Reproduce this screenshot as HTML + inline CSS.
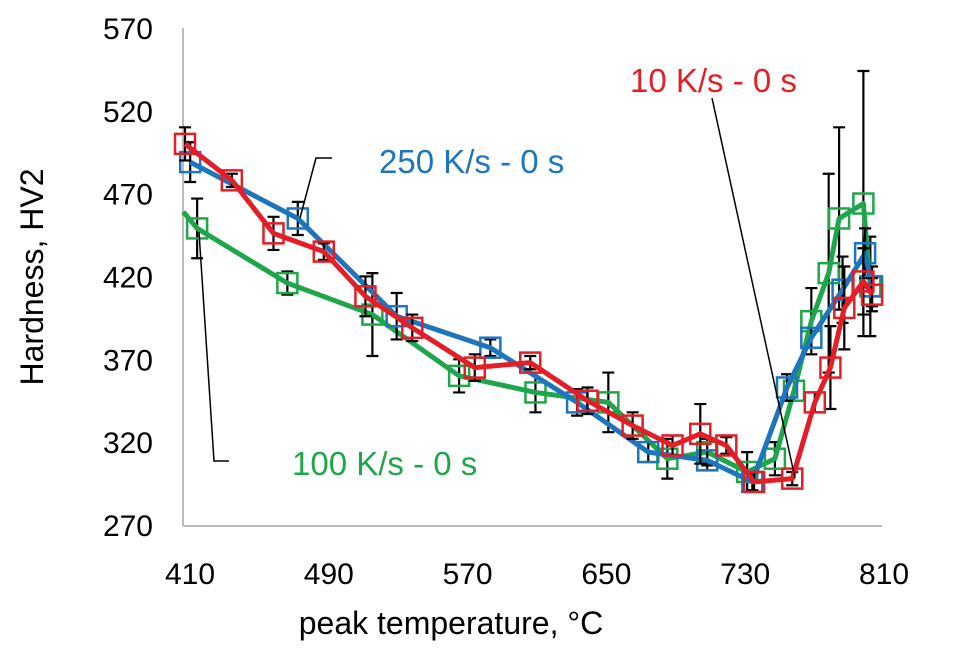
<!DOCTYPE html>
<html><head><meta charset="utf-8"><style>
body{margin:0;background:#fff}
svg{display:block;font-family:"Liberation Sans",Arial,sans-serif}
</style></head><body>
<svg id="chart" width="959" height="655"></svg>
<script>
const xTicks=[410,490,570,650,730,810];
const yTicks=[270,320,370,420,470,520,570];
const blueX=[413,475,532,586,636,677,711,737,757,771,789,802,806];
const blueY=[489,455,396,377,344,314,309,296,353,383,412,434,414];
const blueErr=[12,10,14,5,8,6,6,5,8,6,20,15,12];
const redX=[410,437,461,490,514,541,577,609,642,668,691,707,722,738,760,773,782,790,801,806];
const redY=[500,478,446,435,408,389,365,368,345,330,318,325,318,296,298,344,365,401,417,409];
const redErr=[10,4,10,5,12,8,8,4,8,8,6,18,5,6,4,6,25,25,20,10];
const greenX=[409,417,469,518,568,612,654,688,711,734,750,761,771,781,787,801,805];
const greenY=[459,449,416,397,360,350,344,310,314,302,310,351,393,422,455,464,414];
const greenErr=[0,18,7,25,10,12,18,12,8,12,10,6,20,60,55,80,30];
const NS="http://www.w3.org/2000/svg";
const svg=document.getElementById('chart');
const X=v=>185+(v-410)*1.735;
const Y=v=>525-(v-270)*1.657;
function mk(t,a,p){const e=document.createElementNS(NS,t);for(const k in a)e.setAttribute(k,a[k]);(p||svg).appendChild(e);return e;}
const ax=mk('g',{});


mk('line',{x1:183,y1:28,x2:183,y2:526,stroke:'#bbb','stroke-width':2},ax);
mk('line',{x1:183,y1:526,x2:882,y2:526,stroke:'#bbb','stroke-width':2},ax);
yTicks.forEach(v=>{const t=mk('text',{x:153,y:Y(v)+11,'text-anchor':'end','font-size':30,fill:'#000'},ax);t.textContent=v;

});
xTicks.forEach(v=>{const t=mk('text',{x:X(v)+5,y:584,'text-anchor':'middle','font-size':30,fill:'#000'},ax);t.textContent=v;

});
const yt=mk('text',{x:0,y:0,transform:'translate(43,277) rotate(-90)','text-anchor':'middle','font-size':32,fill:'#000'});yt.textContent='Hardness, HV2';


const xt=mk('text',{x:451,y:634,'text-anchor':'middle','font-size':32,fill:'#000'});xt.textContent='peak temperature, °C';


function series(xs,ys,es,col,name){
 const g=mk('g',{});
 
 
 xs.forEach((x,i)=>{if(!es[i])return;const cx=X(x),y1=Y(ys[i]-es[i]),y2=Y(ys[i]+es[i]);
  mk('path',{d:`M${cx},${y1}V${y2}M${cx-6},${y1}h12M${cx-6},${y2}h12`,stroke:'#000','stroke-width':2.2,fill:'none'},g);});
 mk('polyline',{points:xs.map((x,i)=>X(x)+','+Y(ys[i])).join(' '),fill:'none',stroke:col,'stroke-width':5,'stroke-linejoin':'round'},g);
 xs.forEach((x,i)=>{if(name.startsWith('green')&&i===0)return;const r=mk('rect',{x:X(x)-10,y:Y(ys[i])-10,width:20,height:20,fill:'none',stroke:col,'stroke-width':2.5},g);
  
  });
}
series(greenX,greenY,greenErr,'#1fa64a','green-series-100ks');
series(blueX,blueY,blueErr,'#1f75bc','blue-series-250ks');
series(redX,redY,redErr,'#e41e26','red-series-10ks');
const ld=mk('g',{stroke:'#000','stroke-width':1.5,fill:'none'});


mk('polyline',{points:'300,218 316,158 332,158'},ld);
mk('polyline',{points:'199,232 214,461 229,461'},ld);
mk('line',{x1:712,y1:98,x2:795,y2:478},ld);
function lab(t,x,y,c,n){const e=mk('text',{x:x,y:y,'font-size':33,fill:c});e.textContent=t;

}
lab('250 K/s - 0 s',379,173,'#1f75bc','label-250ks');
lab('10 K/s - 0 s',630,92,'#e41e26','label-10ks');
lab('100 K/s - 0 s',292,475,'#1fa64a','label-100ks');
</script>
</body></html>
